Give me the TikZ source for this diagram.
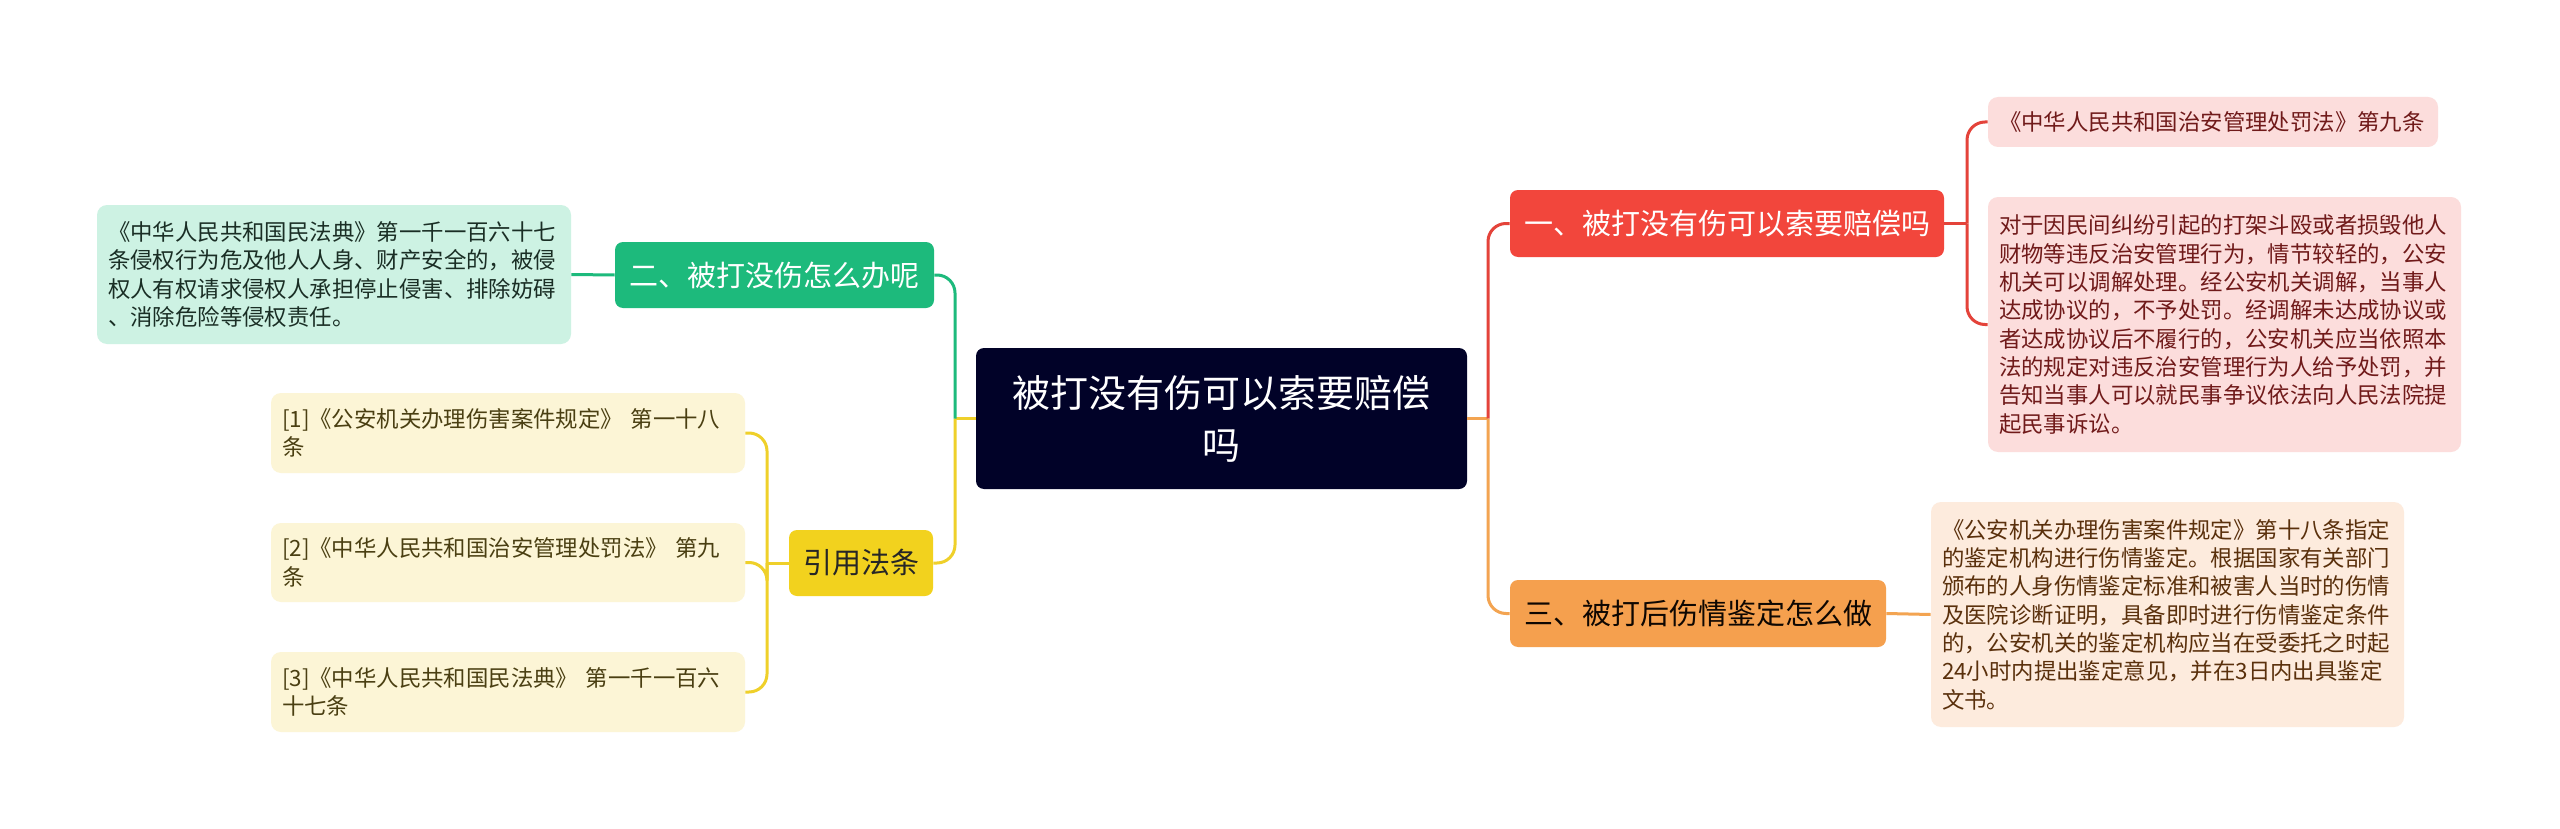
\documentclass[tikz,border=0pt]{standalone}
\usepackage{fontspec}
\setmainfont{Noto Sans CJK SC}
\definecolor{navy}{HTML}{010228}
\definecolor{redn}{HTML}{F2463C}
\definecolor{redl}{HTML}{E4433A}
\definecolor{pinkf}{HTML}{FCDDDC}
\definecolor{pinkt}{HTML}{701A1A}
\definecolor{greenn}{HTML}{1DBA7C}
\definecolor{greenf}{HTML}{CDF2E3}
\definecolor{greent}{HTML}{1A2E25}
\definecolor{yelln}{HTML}{F2D21E}
\definecolor{yellf}{HTML}{FCF5D6}
\definecolor{yellt}{HTML}{4A3F12}
\definecolor{yellline}{HTML}{EFD02A}
\definecolor{orn}{HTML}{F5A04E}
\definecolor{orf}{HTML}{FDEBDD}
\definecolor{ort}{HTML}{5A300C}
\definecolor{orline}{HTML}{F3A451}
\tikzset{
  rootbox/.style={fill=navy, text=white, rounded corners=4pt, inner sep=0pt,
    minimum width=245.5pt, minimum height=70.5pt, align=center,
    font=\fontsize{19pt}{26pt}\selectfont},
  mainbox/.style={rounded corners=4pt, inner sep=0pt, minimum height=33pt,
    font=\fontsize{14.5pt}{18pt}\selectfont},
  leafbox/.style={rounded corners=5pt, inner xsep=5.5pt, inner ysep=0pt, align=left,
    font=\fontsize{11.2pt}{14.15pt}\selectfont},
  conn/.style={line width=1.5pt, rounded corners=9pt},
}
\begin{document}
\begin{tikzpicture}[x=0.5pt,y=-0.5pt]
\fill[white] (0,0) rectangle (2560,829);
\useasboundingbox (0,0) rectangle (2560,829);

% root
\node[rootbox] (root) at (1221.5,418.5) {被打没有伤可以索要赔偿\\吗};

% level 1
\node[mainbox, fill=greenn, text=white, minimum width=159.5pt] (green) at (774.5,275) {二、被打没伤怎么办呢};
\node[mainbox, fill=yelln, text=black!85, minimum width=72pt] (yellow) at (861,563) {引用法条};
\node[mainbox, fill=redn, text=white, minimum width=217pt, minimum height=33.5pt] (red) at (1727,223.5) {一、被打没有伤可以索要赔偿吗};
\node[mainbox, fill=orn, text=black!85!ort, minimum width=188pt, minimum height=33.5pt] (orange) at (1698,613.5) {三、被打后伤情鉴定怎么做};

% leaves left
\node[leafbox, fill=greenf, text=greent, text width=226pt, minimum height=69.5pt] (lg) at (334,274.5)
 {《中华人民共和国民法典》第一千一百六十七\\条侵权行为危及他人人身、财产安全的，被侵\\权人有权请求侵权人承担停止侵害、排除妨碍\\、消除危险等侵权责任。};
\node[leafbox, fill=yellf, text=yellt, text width=226pt, minimum height=40pt] (c1) at (508,433)
 {[1]《公安机关办理伤害案件规定》 第一十八\\条};
\node[leafbox, fill=yellf, text=yellt, text width=226pt, minimum height=39.5pt] (c2) at (508,562.5)
 {[2]《中华人民共和国治安管理处罚法》 第九\\条};
\node[leafbox, fill=yellf, text=yellt, text width=226pt, minimum height=40pt] (c3) at (508,692)
 {[3]《中华人民共和国民法典》 第一千一百六\\十七条};

% leaves right
\node[leafbox, fill=pinkf, text=pinkt, text width=214pt, minimum height=25pt] (p1) at (2213,122)
 {《中华人民共和国治安管理处罚法》第九条};
\node[leafbox, fill=pinkf, text=pinkt, text width=225.5pt, minimum height=127.5pt] (p2) at (2224.5,324.5)
 {对于因民间纠纷引起的打架斗殴或者损毁他人\\财物等违反治安管理行为，情节较轻的，公安\\机关可以调解处理。经公安机关调解，当事人\\达成协议的，不予处罚。经调解未达成协议或\\者达成协议后不履行的，公安机关应当依照本\\法的规定对违反治安管理行为人给予处罚，并\\告知当事人可以就民事争议依法向人民法院提\\起民事诉讼。};
\node[leafbox, fill=orf, text=ort, text width=225.5pt, minimum height=112.5pt] (ob) at (2167.5,614.5)
 {《公安机关办理伤害案件规定》第十八条指定\\的鉴定机构进行伤情鉴定。根据国家有关部门\\颁布的人身伤情鉴定标准和被害人当时的伤情\\及医院诊断证明，具备即时进行伤情鉴定条件\\的，公安机关的鉴定机构应当在受委托之时起\\24小时内提出鉴定意见，并在3日内出具鉴定\\文书。};

% junctions
\coordinate (jl) at (955,418.5);
\coordinate (jr) at (1488,418.5);
\coordinate (jred) at (1967,223.5);
\coordinate (jy) at (767,563);

% connectors
\draw[conn, yellline] (root.west) -- (jl);
\draw[conn, yellline] (jl) |- (yellow.east);
\draw[conn, greenn] (jl) |- (green.east);
\draw[conn, orline] (root.east) -- (jr);
\draw[conn, redl] (jr) |- (red.west);
\draw[conn, orline] (jr) |- (orange.west);

\draw[conn, greenn] (green.west) -- (lg.east);
\draw[conn, yellline] (yellow.west) -- (jy);
\draw[conn, yellline] (jy) |- (c1.east);
\draw[conn, yellline] (jy) |- (c2.east);
\draw[conn, yellline] (jy) |- (c3.east);

\draw[conn, redl] (red.east) -- (jred);
\draw[conn, redl] (jred) |- (p1.west);
\draw[conn, redl] (jred) |- (p2.west);
\draw[conn, orline] (orange.east) -- (ob.west);
\end{tikzpicture}
\end{document}
